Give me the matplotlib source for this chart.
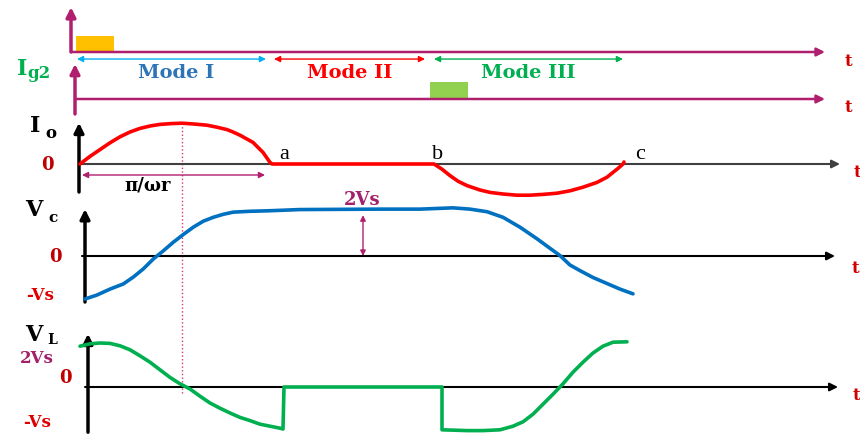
import matplotlib
matplotlib.use('Agg')
import matplotlib.pyplot as plt

# ---------------- data (time in arbitrary units, values in per-unit) -------------
mode_names = ['Mode I', 'Mode II', 'Mode III']
mode_start = [-0.1, 19.6, 35.6]
mode_end = [18.8, 34.7, 54.5]

ig1_pulse = (-0.2, 3.6)      # start, end
ig2_pulse = (35.2, 39.0)

io_t = [0.2, 1.2, 2.2, 3.2, 4.2, 5.2, 6.2, 7.2, 8.2, 9.3, 10.4, 11.6, 12.9, 13.9,
        14.9, 15.5, 16.2, 17.5, 18.5, 19.2, 19.4,
        35.6, 36.4, 37.2, 38.0, 38.9, 40.2, 41.2, 42.5, 43.9, 45.2, 46.5, 47.9,
        49.2, 50.5, 51.9, 52.9, 53.5, 54.0, 54.5, 54.6]
io_v = [0.0, 0.19, 0.36, 0.53, 0.68, 0.80, 0.89, 0.95, 0.99, 1.01, 1.02, 1.0, 0.97, 0.92,
        0.86, 0.8, 0.72, 0.54, 0.29, 0.04, 0.0,
        0.0, -0.13, -0.29, -0.43, -0.54, -0.65, -0.71, -0.75, -0.78, -0.78, -0.76, -0.73,
        -0.67, -0.58, -0.46, -0.33, -0.21, -0.11, 0.0, 0.05]

vc_t = [0.7, 1.87, 3.2, 4.53, 5.53, 6.53, 7.53, 8.53, 9.53, 10.53, 11.53, 12.53, 13.53,
        14.53, 15.53, 17.2, 18.87, 22.2, 30.0, 34.2, 37.5, 39.2, 40.9, 42.5, 44.2, 45.9,
        46.9, 48.2, 49.2, 50.2, 51.5, 52.9, 54.2, 55.5]
vc_v = [-1.0, -0.91, -0.77, -0.65, -0.49, -0.30, -0.07, 0.12, 0.32, 0.50, 0.67, 0.81, 0.90,
        0.97, 1.02, 1.04, 1.05, 1.08, 1.09, 1.09, 1.12, 1.09, 1.03, 0.90, 0.67, 0.40,
        0.23, 0.01, -0.21, -0.34, -0.50, -0.64, -0.77, -0.88]

vl_t = [0.2, 1.2, 2.2, 3.2, 4.2, 5.2, 6.2, 7.2, 8.2, 9.2, 10.2, 11.2, 12.2, 13.2, 14.2,
        15.2, 16.2, 17.2, 18.2, 19.2, 20.2, 20.5,
        20.6, 36.4, 36.4, 38.9, 40.5, 42.2, 43.5, 44.5, 45.5, 46.5, 47.5, 48.5, 49.5,
        50.5, 51.5, 52.5, 53.5, 54.9]
vl_v = [1.02, 1.08, 1.10, 1.09, 1.03, 0.93, 0.78, 0.62, 0.43, 0.24, 0.08, -0.05, -0.23,
        -0.40, -0.53, -0.65, -0.76, -0.84, -0.93, -0.98, -1.03, -1.05,
        0.0, 0.0, -1.07, -1.09, -1.09, -1.07, -0.98, -0.87, -0.68, -0.43, -0.18, 0.08,
        0.37, 0.62, 0.85, 1.02, 1.12, 1.13]

t_marker = 10.4           # pi/omega_r half point (dotted line)
labels_abc = ['a', 'b', 'c']
abc_t = [20.6, 36.0, 56.2]

# ---------------- styling ----------------
W, H = 860, 435
T_MIN, T_MAX = -7.8, 78.2
MAG = '#B01E6E'
SERIF = 'DejaVu Serif'

fig = plt.figure(figsize=(8.6, 4.35), dpi=100)


def panel(y0, s):
    ax = fig.add_axes([0, 0, 1, 1])
    ax.set_xlim(T_MIN, T_MAX)
    ax.set_ylim((y0 - H) / s, y0 / s)
    ax.axis('off')
    ax.patch.set_alpha(0)
    return ax


def arrow(ax, x0, y0, x1, y1, color, lw, ms=12, style='-|>'):
    ax.annotate('', xy=(x1, y1), xytext=(x0, y0),
                arrowprops=dict(arrowstyle=style, color=color, lw=lw,
                                mutation_scale=ms, shrinkA=0, shrinkB=0),
                annotation_clip=False)


def txt(ax, x, y, s, color='black', size=14, weight='bold', family=SERIF, **kw):
    ax.text(x, y, s, color=color, fontsize=size, fontweight=weight,
            family=family, ha='center', va='center', **kw)


# ---- Ig1 panel ----
a1 = panel(53, 16)
a1.bar((ig1_pulse[0] + ig1_pulse[1]) / 2, 1, width=ig1_pulse[1] - ig1_pulse[0],
       color='#FFC000', zorder=1)
arrow(a1, -0.7, 0, 74.7, 0, MAG, 1.8)
arrow(a1, -0.7, 0, -0.7, 2.8, MAG, 2.5, ms=14)
txt(a1, 77.0, -0.56, 't', color='#D00000', size=12)
mode_arrow_cols = ['#00B0F0', '#FF0000', '#00B050']
mode_text_cols = ['#2E75B6', '#FF0000', '#00B050']
for n, s0, s1, ca, ct in zip(mode_names, mode_start, mode_end, mode_arrow_cols, mode_text_cols):
    arrow(a1, s0, -0.44, s1, -0.44, ca, 1.0, ms=9, style='<|-|>')
    txt(a1, (s0 + s1) / 2 + (0.5 if n == 'Mode I' else 0), -1.28, n, color=ct, size=14)

# ---- Ig2 panel ----
a2 = panel(100, 17)
a2.bar((ig2_pulse[0] + ig2_pulse[1]) / 2, 1, width=ig2_pulse[1] - ig2_pulse[0],
       color='#92D050', zorder=1)
arrow(a2, -0.3, 0, 74.7, 0, MAG, 1.8)
arrow(a2, -0.3, -0.88, -0.3, 2.06, MAG, 2.5, ms=14)
txt(a2, 77.0, -0.47, 't', color='#D00000', size=12)
txt(a2, -5.6, 1.85, 'I', color='#00B050', size=16)
txt(a2, -3.9, 1.55, 'g2', color='#00B050', size=12)

# ---- Io panel ----
a3 = panel(165, 40)
arrow(a3, 0.1, 0, 76.2, 0, '#404040', 1.5)
arrow(a3, 0.1, -0.7, 0.1, 1.03, 'black', 2.5, ms=14)
a3.plot(io_t, io_v, color='#FF0000', lw=2.6, solid_capstyle='round',
        solid_joinstyle='round', zorder=3)
a3.plot([t_marker, t_marker], [1.02, -5.75], color='#D6337A', lw=1.0, ls=':', zorder=2)
arrow(a3, 0.4, -0.275, 18.7, -0.275, MAG, 1.0, ms=9, style='<|-|>')
txt(a3, 7.0, -0.52, 'π/ωr', size=13)
txt(a3, -4.3, 0.98, 'I', size=16)
txt(a3, -2.7, 0.78, 'o', size=12)
txt(a3, -3.1, 0.0, '0', color='#C00000', size=13)
for lab, tt in zip(labels_abc, abc_t):
    txt(a3, tt, 0.25, lab, size=16, weight='normal', family='Liberation Serif')
txt(a3, 77.9, -0.18, 't', color='#D00000', size=12)

# ---- Vc panel ----
a4 = panel(257, 43)
arrow(a4, 0.4, 0, 75.7, 0, 'black', 1.5)
arrow(a4, 0.7, -1.07, 0.7, 1.09, 'black', 2.5, ms=14)
a4.plot(vc_t, vc_v, color='#0070C0', lw=2.6, solid_capstyle='round',
        solid_joinstyle='round', zorder=3)
arrow(a4, 28.5, 0.0, 28.5, 0.95, MAG, 1.0, ms=8, style='<|-|>')
txt(a4, 28.4, 1.33, '2Vs', color='#A5206A', size=13)
txt(a4, -4.4, 1.1, 'V', size=16)
txt(a4, -2.5, 0.9, 'c', size=11)
txt(a4, -2.3, 0.0, '0', color='#C00000', size=13)
txt(a4, -3.8, -0.9, '-Vs', color='#E00000', size=12)
txt(a4, 77.7, -0.26, 't', color='#D00000', size=12)

# ---- VL panel ----
a5 = panel(388, 40)
arrow(a5, 0.7, 0, 76.0, 0, 'black', 1.5)
arrow(a5, 1.0, -1.13, 1.0, 1.33, 'black', 2.5, ms=14)
a5.plot(vl_t, vl_v, color='#00B050', lw=2.6, solid_capstyle='round',
        solid_joinstyle='round', zorder=3)
txt(a5, -4.4, 1.33, 'V', size=16)
txt(a5, -2.6, 1.2, 'L', size=10)
txt(a5, -4.1, 0.74, '2Vs', color='#A5206A', size=12)
txt(a5, -1.3, 0.25, '0', color='#C00000', size=13)
txt(a5, -4.1, -0.87, '-Vs', color='#E00000', size=12)
txt(a5, 77.8, -0.18, 't', color='#D00000', size=12)

fig.savefig('out.png', dpi=100)
